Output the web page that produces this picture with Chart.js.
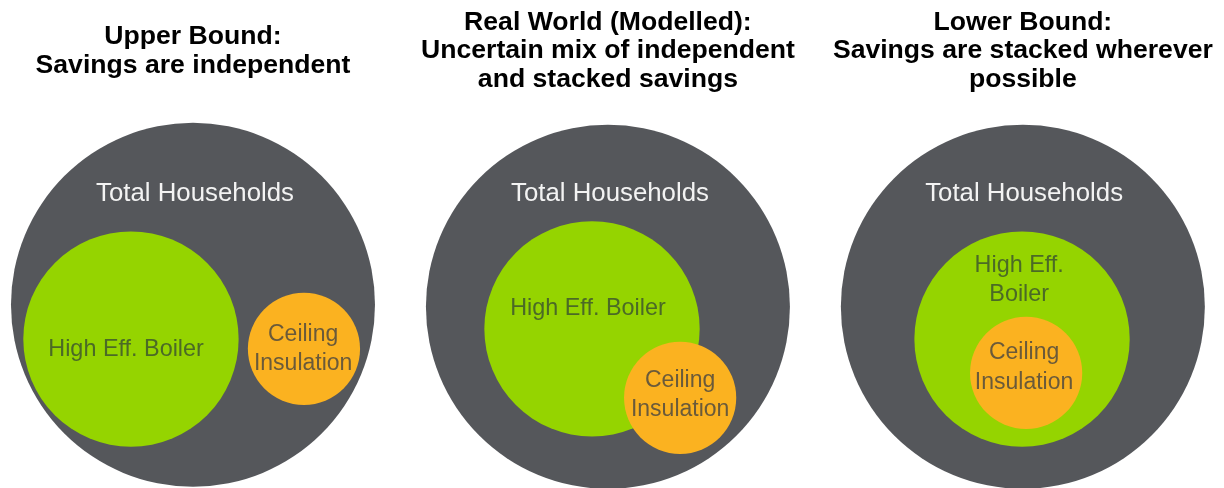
<!DOCTYPE html>
<html>
<head>
<meta charset="utf-8">
<script src="https://cdn.jsdelivr.net/npm/chart.js@4.4.1/dist/chart.umd.min.js"></script>
<style>
    html, body { margin: 0; padding: 0; background: #ffffff; }
    #wrap { width: 1224px; height: 488px; }
</style>
</head>
<body>
<div id="wrap"><canvas id="venn" width="1224" height="488"></canvas></div>
<script>
// Paneles de izquierda a derecha
var panelTitles = [
    ['Upper Bound:', 'Savings are independent'],
    ['Real World (Modelled):', 'Uncertain mix of independent', 'and stacked savings'],
    ['Lower Bound:', 'Savings are stacked wherever', 'possible']
];

// Porcentaje de hogares (area de cada circulo)
var groups = ['Total Households', 'High Eff. Boiler', 'Ceiling Insulation'];
var shares = [100, 35, 9.5];

// Centros de los circulos, unidades de panel (100 de ancho, y desde abajo)
var totalX = [47.3, 49.0, 50.7];
var totalY = [44.9, 44.4, 44.4];
var boilerX = [32.1, 45.1, 50.5];
var boilerY = [36.5, 39.0, 36.5];
var insulX = [74.5, 66.7, 51.5];
var insulY = [34.1, 22.1, 28.2];

// Etiquetas dentro de los circulos
var totalLabel = [['Total Households'], ['Total Households'], ['Total Households']];
var boilerLabel = [['High Eff. Boiler'], ['High Eff. Boiler'], ['High Eff.', 'Boiler']];
var insulLabel = [['Ceiling', 'Insulation'], ['Ceiling', 'Insulation'], ['Ceiling', 'Insulation']];
var totalLabelX = [47.8, 49.5, 51.0];
var totalLabelY = [72.2, 72.2, 72.2];
var boilerLabelX = [30.9, 44.1, 49.8];
var boilerLabelY = [34.0, 44.0, 51.0];
var insulLabelX = [74.3, 66.7, 51.0];
var insulLabelY = [34.1, 22.7, 29.5];

var PANEL_W = 100;
var TOTAL_R_PX = 182;      // radio del circulo del 100%
var TITLE_Y = 105.3;       // centro del bloque de titulo
var TITLE_STEP = 6.99;
var LABEL_STEP = 7.2;
var FONT = '"Liberation Sans", Arial, Helvetica, sans-serif';

// el area del circulo es proporcional al porcentaje de hogares
function puntos(xs, ys, share) {
    return xs.map(function (x, i) {
        return { x: i * PANEL_W + x, y: ys[i], r: TOTAL_R_PX * Math.sqrt(share / 100) };
    });
}

function escribe(ctx, lineas, px, py, paso) {
    var n = lineas.length;
    lineas.forEach(function (t, i) {
        ctx.fillText(t, px, py + (i - (n - 1) / 2) * paso);
    });
}

var textos = {
    id: 'textos',
    afterDatasetsDraw: function (chart) {
        var ctx = chart.ctx;
        var x = chart.scales.x;
        var y = chart.scales.y;
        var paso = y.getPixelForValue(0) - y.getPixelForValue(LABEL_STEP);
        var pasoTitulo = y.getPixelForValue(0) - y.getPixelForValue(TITLE_STEP);
        ctx.save();
        ctx.textAlign = 'center';

        // titulos
        ctx.textBaseline = 'alphabetic';
        ctx.fillStyle = '#000000';
        ctx.font = 'bold 26.6px ' + FONT;
        panelTitles.forEach(function (lineas, i) {
            escribe(ctx, lineas, x.getPixelForValue(i * PANEL_W + totalX[i]), y.getPixelForValue(TITLE_Y), pasoTitulo);
        });

        ctx.textBaseline = 'middle';
        for (var i = 0; i < panelTitles.length; i++) {
            var off = i * PANEL_W;
            ctx.font = '25.8px ' + FONT;
            ctx.fillStyle = '#f3f3f3';
            escribe(ctx, totalLabel[i], x.getPixelForValue(off + totalLabelX[i]), y.getPixelForValue(totalLabelY[i]), paso);

            ctx.font = '23.4px ' + FONT;
            ctx.fillStyle = '#4b6a26';
            escribe(ctx, boilerLabel[i], x.getPixelForValue(off + boilerLabelX[i]), y.getPixelForValue(boilerLabelY[i]), paso);

            ctx.font = '23px ' + FONT;
            ctx.fillStyle = '#6a5a3a';
            escribe(ctx, insulLabel[i], x.getPixelForValue(off + insulLabelX[i]), y.getPixelForValue(insulLabelY[i]), paso);
        }
        ctx.restore();
    }
};

var chart = new Chart(document.getElementById('venn'), {
    type: 'bubble',
    data: {
        datasets: [
            {
                label: groups[0],
                data: puntos(totalX, totalY, shares[0]),
                backgroundColor: '#55575b',
                order: 3
            },
            {
                label: groups[1],
                data: puntos(boilerX, boilerY, shares[1]),
                backgroundColor: '#95d400',
                order: 2
            },
            {
                label: groups[2],
                data: puntos(insulX, insulY, shares[2]),
                backgroundColor: '#fbb220',
                order: 1
            }
        ]
    },
    options: {
        responsive: false,
        maintainAspectRatio: false,
        animation: false,
        events: [],
        layout: { padding: 0, autoPadding: false },
        elements: {
            point: { borderWidth: 0, hoverRadius: 0 }
        },
        scales: {
            x: { type: 'linear', min: 0, max: 300, display: false },
            y: { type: 'linear', min: 0, max: 119.6, display: false }
        },
        plugins: {
            legend: { display: false },
            tooltip: { enabled: false },
            title: { display: false }
        }
    },
    plugins: [textos]
});
</script>
</body>
</html>
